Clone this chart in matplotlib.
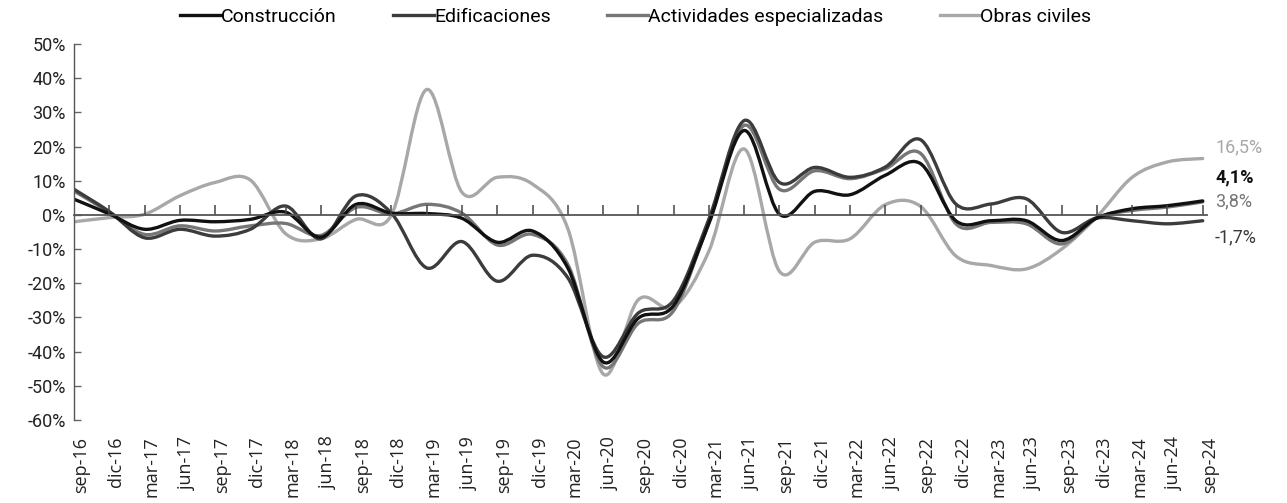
import numpy as np
import matplotlib.pyplot as plt
from matplotlib.path import Path
from matplotlib.patches import PathPatch
from matplotlib.lines import Line2D
from matplotlib.transforms import ScaledTranslation

# quarterly annual variation (%)
quarters = ['sep-16', 'dic-16', 'mar-17', 'jun-17', 'sep-17', 'dic-17', 'mar-18', 'jun-18',
            'sep-18', 'dic-18', 'mar-19', 'jun-19', 'sep-19', 'dic-19', 'mar-20', 'jun-20',
            'sep-20', 'dic-20', 'mar-21', 'jun-21', 'sep-21', 'dic-21', 'mar-22', 'jun-22',
            'sep-22', 'dic-22', 'mar-23', 'jun-23', 'sep-23', 'dic-23', 'mar-24', 'jun-24',
            'sep-24']

construccion = [4.6, 0.3, -4.2, -1.6, -2.0, -1.3, 0.8, -6.5, 3.1, 0.5, 0.4, -1.0, -8.0, -4.7,
                -15.5, -43.0, -30.2, -26.5, -2.5, 24.7, 0.2, 6.9, 5.9, 11.6, 15.0, -1.7, -1.7,
                -1.7, -7.5, -0.9, 1.8, 2.7, 4.1]
edificaciones = [7.5, 1.0, -6.7, -4.2, -6.2, -4.2, 2.6, -7.0, 5.6, 0.5, -15.5, -7.8, -19.4,
                 -11.8, -18.4, -41.5, -28.7, -25.0, -1.2, 27.6, 9.5, 13.9, 11.0, 14.0, 22.0,
                 3.2, 3.2, 4.7, -5.1, -0.9, -1.7, -2.6, -1.7]
actividades = [7.0, 0.8, -5.7, -3.2, -4.7, -3.2, -2.5, -6.0, 2.2, 0.3, 3.1, 0.5, -8.8, -5.7,
               -14.5, -44.4, -31.7, -28.0, -2.0, 26.2, 7.5, 12.9, 10.6, 13.5, 18.0, -2.6, -2.2,
               -2.6, -8.5, -0.9, 1.3, 2.3, 3.8]
obras_civiles = [-2.0, -0.8, 0.2, 5.6, 9.5, 10.2, -5.5, -7.0, -1.3, 0.0, 36.7, 6.6, 11.0, 9.0,
                 -4.0, -46.5, -24.8, -27.0, -10.6, 19.3, -16.5, -8.0, -7.0, 3.0, 2.5, -12.0,
                 -14.8, -15.8, -10.0, -0.5, 11.0, 15.5, 16.5]

series = [
    ('Construcción', construccion, '#111111'),
    ('Edificaciones', edificaciones, '#3c3c3c'),
    ('Actividades especializadas', actividades, '#767676'),
    ('Obras civiles', obras_civiles, '#a8a8a8'),
]
# vertical nudge of the end labels so they don't collide
label_offsets = {'Construcción': 7.0, 'Edificaciones': -4.8,
                 'Actividades especializadas': 0.3, 'Obras civiles': 3.2}


def smooth_path(xs, ys):
    # Catmull-Rom style bezier through the points (like a spreadsheet "smoothed line")
    pts = np.column_stack([xs, ys]).astype(float)
    padded = np.vstack([pts[0], pts, pts[-1]])
    verts = [pts[0]]
    codes = [Path.MOVETO]
    for i in range(len(pts) - 1):
        p0, p1, p2, p3 = padded[i], padded[i + 1], padded[i + 2], padded[i + 3]
        verts += [p1 + (p2 - p0) / 6, p2 - (p3 - p1) / 6, p2]
        codes += [Path.CURVE4] * 3
    return Path(verts, codes)


fig = plt.figure(figsize=(12.87, 5.03), dpi=100)
ax = fig.add_axes([0.0575, 0.165, 0.8803, 0.7475])

x = np.arange(len(quarters))
for name, vals, color in reversed(series):
    ax.add_patch(PathPatch(smooth_path(x, vals), facecolor='none', edgecolor=color,
                           lw=2.4, capstyle='round', joinstyle='round'))

ax.set_xlim(0, len(quarters) - 1 + 0.12)
ax.set_ylim(-60, 50)

# zero line with small upward ticks, category labels at the bottom
for s in ['top', 'right']:
    ax.spines[s].set_visible(False)
ax.spines['bottom'].set_position(('data', 0))
ax.spines['bottom'].set_color('#555555')
ax.spines['bottom'].set_linewidth(1.3)
ax.spines['left'].set_color('#555555')
ax.spines['left'].set_linewidth(1.0)
ax.set_xticks(x[1:])
ax.tick_params(axis='x', direction='in', length=7, width=1.1, color='#444444',
               labelbottom=False)
ax.set_yticks(np.arange(-60, 51, 10))
ax.set_yticklabels([f'{v}%' for v in range(-60, 51, 10)])
ax.tick_params(axis='y', direction='in', length=5, width=1.0, color='#666666', pad=6,
               labelsize=13, labelcolor='#222222')
for lbl in ax.get_yticklabels():
    lbl.set_family('Roboto')

sec = ax.secondary_xaxis('bottom')
sec.set_xticks(x)
sec.set_xticklabels(quarters, rotation=90, family='Open Sans', fontsize=13,
                    color='#222222')
sec.tick_params(length=0, pad=12)
sec.spines['bottom'].set_visible(False)
shift = ScaledTranslation(7 / 100, 0, fig.dpi_scale_trans)
for lbl in sec.get_xticklabels():
    lbl.set_transform(lbl.get_transform() + shift)

# end values
for name, vals, color in series:
    ax.text(len(quarters) - 1 + 0.35, vals[-1] + label_offsets[name],
            f'{vals[-1]:.1f}%'.replace('.', ','), color=color, family='Roboto',
            fontsize=13, va='center', ha='left',
            fontweight='bold' if name == 'Construcción' else 'normal')

handles = [Line2D([], [], color=c, lw=2.4) for _, _, c in series]
fig.legend(handles, [n for n, _, _ in series], loc='center', bbox_to_anchor=(0.494, 0.966),
           ncol=4, frameon=False, handlelength=2.1, handletextpad=0.0, columnspacing=2.9,
           prop={'family': 'Roboto', 'size': 14})

fig.savefig('out.png', dpi=100)
